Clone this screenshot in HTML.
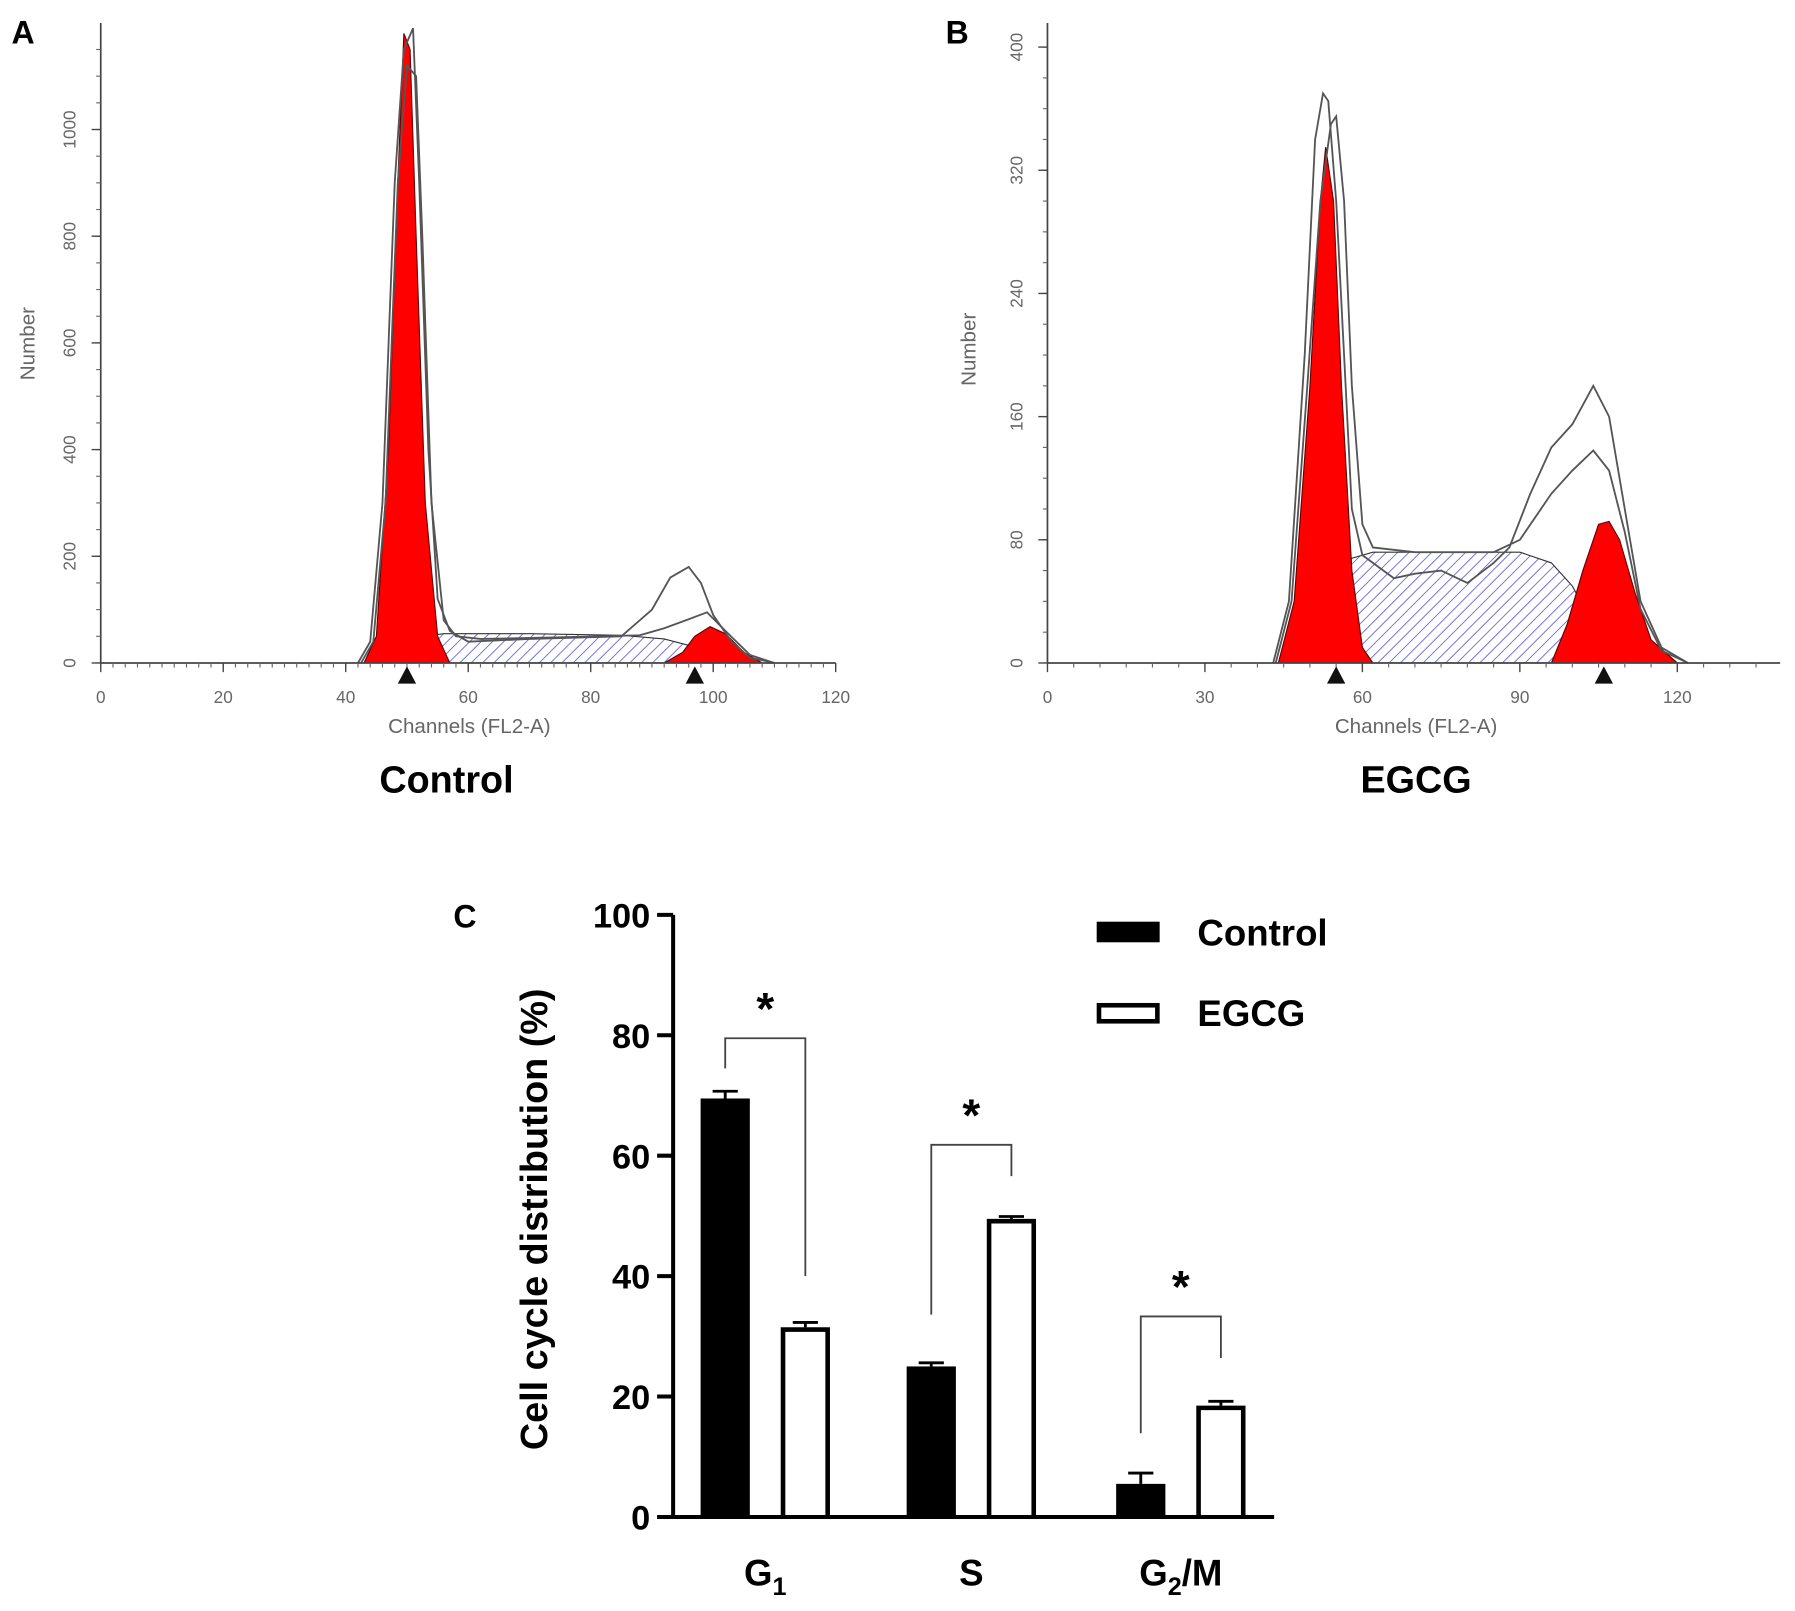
<!DOCTYPE html>
<html><head><meta charset="utf-8"><style>
html,body{margin:0;padding:0;background:#fff;}
svg{display:block;font-family:"Liberation Sans",sans-serif;}
</style></head><body>
<svg id="fig" width="1795" height="1611" viewBox="0 0 1568 1407" xmlns="http://www.w3.org/2000/svg">
<defs>
<pattern id="hatch" patternUnits="userSpaceOnUse" width="7" height="7" patternTransform="rotate(45)">
<rect width="7" height="7" fill="#fff"/><line x1="0" y1="0" x2="0" y2="7" stroke="#6a6ae0" stroke-width="1.6"/>
</pattern>
</defs>
<g id="gA"></g>
<g id="gB"></g>
<g id="gC"></g>
</svg>
<script>
// ---- Panel A data (channel, count)
const aG1 = [[43,0],[45,50],[47,400],[48.5,900],[49.5,1180],[50.5,1150],[51.5,800],[53,300],[55,50],[57,0]];
const aEnv1 = [[42,0],[44,40],[46,300],[48,900],[49.5,1150],[51,1190],[52,900],[53.5,400],[55,120],[57,60],[60,40],[70,45],[85,50],[90,100],[93,160],[96,180],[98,150],[100,90],[103,40],[106,10],[110,0]];
const aEnv2 = [[42.5,0],[44.5,40],[46.5,300],[48.5,900],[50,1120],[51.5,1100],[52.5,800],[54,300],[56,80],[58,50],[62,45],[75,48],[88,52],[92,65],[96,82],[99,95],[102,60],[106,15],[110,0]];
const aS = [[47,0],[50,30],[53,50],[56,55],[70,55],[85,52],[92,45],[97,30],[102,10],[105,0]];
const aG2 = [[92,0],[95,20],[97,50],[99.5,68],[102,55],[105,20],[108,0]];
const aMarks = [50,97];
const aXTicks = [0,20,40,60,80,100,120];
const aYTicks = [0,200,400,600,800,1000];
// ---- Panel B data
const bG1 = [[44,0],[47,40],[50,180],[52,300],[53,335],[54.5,300],[56,180],[58,60],[60,10],[62,0]];
const bEnv1 = [[43,0],[46,40],[49,200],[51,340],[52.5,370],[53.5,365],[55,300],[56.5,200],[58,100],[60,70],[62,65],[66,55],[70,58],[75,60],[80,52],[85,65],[88,75],[92,110],[96,140],[100,155],[104,180],[107,160],[110,100],[113,40],[117,10],[122,0]];
const bEnv2 = [[43.5,0],[46.5,40],[49.5,180],[52,300],[54,350],[55,355],[56.5,300],[58,180],[60,90],[62,75],[70,72],[85,72],[90,80],[96,110],[100,125],[104,138],[107,125],[110,85],[113,35],[117,8],[122,0]];
const bS = [[46,0],[50,20],[54,50],[58,68],[62,72],[90,72],[96,65],[100,50],[104,25],[108,8],[112,0]];
const bG2 = [[96,0],[99,25],[102,60],[105,90],[107,92],[109,80],[112,45],[115,15],[120,0]];
const bMarks = [55,106];
const bXTicks = [0,30,60,90,120];
const bYTicks = [0,80,160,240,320,400];
// ---- Panel C data
const cCats = ["G1","S","G2/M"];
const cControl = [69.5,25,5.5];
const cControlErr = [1.2,0.6,1.8];
const cEgcg = [31.5,49.5,18.5];
const cEgcgErr = [0.8,0.4,0.7];
const cYTicks = [0,20,40,60,80,100];
const cBracketTop = [79.5,61.8,33.3];
const cLeftEnd = [74.5,33.6,13.9];
const cRightEnd = [40,56.6,26.4];

const NS="http://www.w3.org/2000/svg";
function mk(parent,tag,attrs,text){const e=document.createElementNS(NS,tag);for(const k in attrs)e.setAttribute(k,attrs[k]);if(text!==undefined)e.textContent=text;parent.appendChild(e);return e;}

function histPanel(g,cfg){
  const X=v=>cfg.x0+(v-0)*cfg.xs, Y=v=>cfg.y0-v*cfg.ys;
  const path=pts=>pts.map((p,i)=>(i?'L':'M')+X(p[0]).toFixed(1)+','+Y(p[1]).toFixed(1)).join(' ');
  let e;
  e=mk(g,'path',{d:path(cfg.S)+'Z',fill:'url(#hatch)',stroke:'#333','stroke-width':1});
  
  e=mk(g,'path',{d:path(cfg.G1)+'Z',fill:'#f00',stroke:'#600','stroke-width':1});
  
  e=mk(g,'path',{d:path(cfg.G2)+'Z',fill:'#f00',stroke:'#600','stroke-width':1});
  
  e=mk(g,'path',{d:path(cfg.E1),fill:'none',stroke:'#555','stroke-width':1.6});
  
  e=mk(g,'path',{d:path(cfg.E2),fill:'none',stroke:'#555','stroke-width':1.6});
  
  e=mk(g,'line',{x1:cfg.x0,y1:cfg.y0,x2:cfg.xEnd,y2:cfg.y0,stroke:'#444','stroke-width':1.5});
  
  e=mk(g,'line',{x1:cfg.x0,y1:cfg.y0,x2:cfg.x0,y2:20,stroke:'#444','stroke-width':1.5});
  
  const minorX=cfg.xt[1]/ (cfg.xt[1]===20?10:6);
  for(let v=0;X(v)<=cfg.xEnd;v+=minorX){mk(g,'line',{x1:X(v),y1:cfg.y0,x2:X(v),y2:cfg.y0+4,stroke:'#666','stroke-width':1});}
  cfg.xt.forEach(v=>{mk(g,'line',{x1:X(v),y1:cfg.y0,x2:X(v),y2:cfg.y0+8,stroke:'#444','stroke-width':1.2});
    e=mk(g,'text',{x:X(v),y:cfg.y0+35,'text-anchor':'middle','font-size':15,fill:'#666'},v);
    });
  const minorY=cfg.yt[1]/4;
  for(let v=0;Y(v)>=20;v+=minorY){mk(g,'line',{x1:cfg.x0-4,y1:Y(v),x2:cfg.x0,y2:Y(v),stroke:'#666','stroke-width':1});}
  cfg.yt.forEach(v=>{mk(g,'line',{x1:cfg.x0-8,y1:Y(v),x2:cfg.x0,y2:Y(v),stroke:'#444','stroke-width':1.2});
    e=mk(g,'text',{x:cfg.x0-22,y:Y(v),'text-anchor':'middle','font-size':15,fill:'#666',transform:`rotate(-90 ${cfg.x0-22} ${Y(v)})`},v);
    });
  cfg.marks.forEach(v=>{e=mk(g,'path',{d:`M${X(v)-8},${cfg.y0+18} L${X(v)+8},${cfg.y0+18} L${X(v)},${cfg.y0+3}Z`,fill:'#111'});
    });
  e=mk(g,'text',{x:cfg.xlab,y:cfg.y0+61,'text-anchor':'middle','font-size':18,fill:'#666'},'Channels (FL2-A)');
  
  e=mk(g,'text',{x:cfg.ylabX,y:cfg.ylabY,'text-anchor':'middle','font-size':18,fill:'#666',transform:`rotate(-90 ${cfg.ylabX} ${cfg.ylabY})`},'Number');
  
  e=mk(g,'text',{x:cfg.tx,y:692,'text-anchor':'middle','font-size':33,'font-weight':'bold',fill:'#000'},cfg.title);
  
  e=mk(g,'text',{x:cfg.lx,y:38,'font-size':28,'font-weight':'bold',fill:'#000'},cfg.letter);
  
}
histPanel(document.getElementById('gA'),{x0:88,y0:579,xs:5.35,ys:0.466,xEnd:730,G1:aG1,E1:aEnv1,E2:aEnv2,S:aS,G2:aG2,marks:aMarks,xt:aXTicks,yt:aYTicks,xlab:410,ylabX:30,ylabY:300,tx:390,title:'Control',lx:10,letter:'A'});
histPanel(document.getElementById('gB'),{x0:915,y0:579,xs:4.585,ys:1.345,xEnd:1555,G1:bG1,E1:bEnv1,E2:bEnv2,S:bS,G2:bG2,marks:bMarks,xt:bXTicks,yt:bYTicks,xlab:1237,ylabX:852,ylabY:305,tx:1237,title:'EGCG',lx:826,letter:'B'});

(function(){
  const g=document.getElementById('gC');
  const x0=588,y0=1325,ys=5.26,Y=v=>y0-v*ys;
  const groupX=[612,792,975], bw=43, gap=70;
  let e;
  cCats.forEach((c,i)=>{
    const xc=groupX[i], xe=groupX[i]+gap;
    e=mk(g,'rect',{x:xc,y:Y(cControl[i]),width:bw,height:cControl[i]*ys,fill:'#000'});
    
    e=mk(g,'path',{d:`M${xe+2},${y0} L${xe+2},${Y(cEgcg[i])+2} L${xe+bw-2},${Y(cEgcg[i])+2} L${xe+bw-2},${y0}`,fill:'#fff',stroke:'#000','stroke-width':4});
    
    [[xc,cControl[i],cControlErr[i]],[xe,cEgcg[i],cEgcgErr[i]]].forEach(b=>{
      const cx=b[0]+bw/2;
      mk(g,'line',{x1:cx,y1:Y(b[1]),x2:cx,y2:Y(b[1]+b[2]),stroke:'#000','stroke-width':2.5});
      mk(g,'line',{x1:cx-11,y1:Y(b[1]+b[2]),x2:cx+11,y2:Y(b[1]+b[2]),stroke:'#000','stroke-width':2.5});
    });
    const lx=xc+bw/2, rx=xe+bw/2, top=cBracketTop[i];
    e=mk(g,'path',{d:`M${lx},${Y(cLeftEnd[i])} L${lx},${Y(top)} L${rx},${Y(top)} L${rx},${Y(cRightEnd[i])}`,fill:'none',stroke:'#444','stroke-width':1.6});
    
    e=mk(g,'text',{x:(lx+rx)/2,y:Y(top)-12,'text-anchor':'middle','font-size':40,'font-weight':'bold'},'*');
    
    e=mk(g,'text',{x:(xc+xe+bw)/2,y:1385,'text-anchor':'middle','font-size':32,'font-weight':'bold'});
    if(c==='G1'){e.innerHTML='G<tspan font-size="22" dy="8">1</tspan>';}
    else if(c==='G2/M'){e.innerHTML='G<tspan font-size="22" dy="8">2</tspan><tspan dy="-8">/M</tspan>';}
    else e.textContent=c;
    
  });
  e=mk(g,'line',{x1:x0,y1:y0,x2:1113,y2:y0,stroke:'#000','stroke-width':3.5});
  
  e=mk(g,'line',{x1:x0,y1:y0+1.5,x2:x0,y2:Y(100),stroke:'#000','stroke-width':3.5});
  
  cYTicks.forEach(v=>{mk(g,'line',{x1:x0-14,y1:Y(v),x2:x0,y2:Y(v),stroke:'#000','stroke-width':3.5});
    e=mk(g,'text',{x:x0-20,y:Y(v)+11,'text-anchor':'end','font-size':30,'font-weight':'bold'},v);
    });
  e=mk(g,'text',{x:478,y:1065,'text-anchor':'middle','font-size':33,'font-weight':'bold',transform:'rotate(-90 478 1065)'},'Cell cycle distribution (%)');
  
  e=mk(g,'text',{x:396,y:810,'font-size':28,'font-weight':'bold'},'C');
  
  e=mk(g,'rect',{x:958,y:805,width:55,height:18,fill:'#000'});
  
  e=mk(g,'text',{x:1046,y:826,'font-size':32,'font-weight':'bold'},'Control');
  
  e=mk(g,'rect',{x:960,y:878,width:51,height:14,fill:'#fff',stroke:'#000','stroke-width':4});
  
  e=mk(g,'text',{x:1046,y:896,'font-size':32,'font-weight':'bold'},'EGCG');
  
})();
</script>
</body></html>
